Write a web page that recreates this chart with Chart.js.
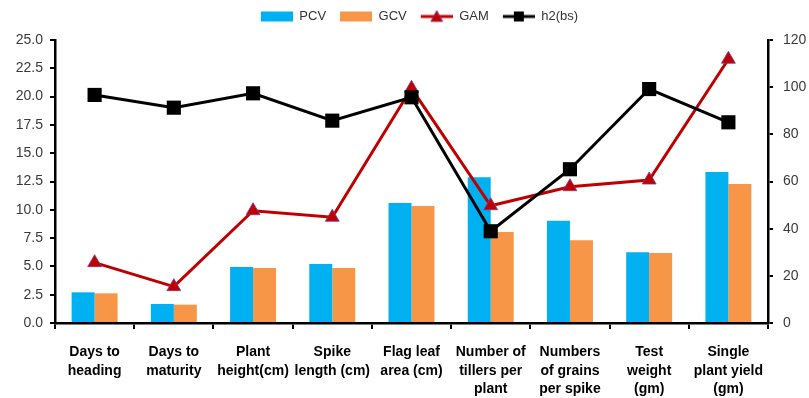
<!DOCTYPE html>
<html>
<head>
<meta charset="utf-8">
<script src="https://cdn.jsdelivr.net/npm/chart.js@4"></script>
<style>
  body { margin: 0; background: #fff; }
  canvas { display: block; }
</style>
</head>
<body>
<canvas id="chart" width="809" height="398"></canvas>
<script>
// --- Data ---
const categories = [
    ['Days to', 'heading'],
    ['Days to', 'maturity'],
    ['Plant', 'height(cm)'],
    ['Spike', 'length (cm)'],
    ['Flag leaf', 'area (cm)'],
    ['Number of', 'tillers per', 'plant'],
    ['Numbers', 'of grains', 'per spike'],
    ['Test', 'weight', '(gm)'],
    ['Single', 'plant yield', '(gm)']
];
const pcv = [2.71, 1.68, 4.95, 5.21, 10.60, 12.87, 9.04, 6.24, 13.34];
const gcv = [2.62, 1.62, 4.86, 4.86, 10.34, 8.04, 7.30, 6.18, 12.28];
const gam = [5.33, 3.21, 9.92, 9.34, 20.73, 10.36, 12.04, 12.63, 23.30];
const h2bs = [96.7, 91.3, 97.4, 85.8, 95.7, 38.9, 65.2, 99.2, 85.1];

const leftTicks = [0, 2.5, 5, 7.5, 10, 12.5, 15, 17.5, 20, 22.5, 25];
const rightTicks = [0, 20, 40, 60, 80, 100, 120];

const blue = '#00B0F0';
const orange = '#F79646';
const red = '#C00000';

// --- Legend swatches (blank on the left acts as spacing) ---
function swatch(kind, color) {
    const c = document.createElement('canvas');
    c.width = 38;
    c.height = 14;
    const g = c.getContext('2d');
    if (kind === 'bar') {
        g.fillStyle = color;
        g.fillRect(6, 2, 32, 10);
    } else {
        g.strokeStyle = color;
        g.lineWidth = 3;
        g.beginPath();
        g.moveTo(6, 7);
        g.lineTo(38, 7);
        g.stroke();
        g.fillStyle = color;
        if (kind === 'tri') {
            g.beginPath();
            g.moveTo(22, 1);
            g.lineTo(28, 12);
            g.lineTo(16, 12);
            g.closePath();
            g.fill();
            g.strokeStyle = '#7a3b8c';
            g.lineWidth = 0.8;
            g.stroke();
        } else {
            g.fillRect(17, 2, 10, 10);
        }
    }
    return c;
}
const legendIcons = [swatch('bar', blue), swatch('bar', orange), swatch('tri', red), swatch('sq', '#000')];

// force the plot area: left 55, right 768, top 40, bottom 323
function fixWidth(w) {
    return scale => {
        scale.width = w;
        scale.paddingTop = 40;
    };
}

// keep the legend near the top and nudge it right, as in the original
const legendPlace = {
    id: 'legendPlace',
    afterLayout(chart) {
        const lg = chart.legend;
        if (!lg) return;
        const dy = 2 - lg.top;
        lg.top += dy;
        lg.bottom += dy;
        lg.left += 12;
        lg.right += 12;
    }
};

const ctx = document.getElementById('chart');
new Chart(ctx, {
    type: 'bar',
    data: {
        labels: categories,
        datasets: [
            { label: 'PCV', data: pcv, backgroundColor: blue, yAxisID: 'y', order: 2,
              barPercentage: 1, categoryPercentage: 0.58 },
            { label: 'GCV', data: gcv, backgroundColor: orange, yAxisID: 'y', order: 2,
              barPercentage: 1, categoryPercentage: 0.58 },
            { type: 'line', label: 'GAM', data: gam, yAxisID: 'y', order: 1,
              borderColor: red, borderWidth: 3, tension: 0,
              pointStyle: 'triangle', pointRadius: 8, pointBackgroundColor: red,
              pointBorderColor: '#7a3b8c', pointBorderWidth: 0.8 },
            { type: 'line', label: 'h2(bs)', data: h2bs, yAxisID: 'y1', order: 0,
              borderColor: '#000', borderWidth: 3, tension: 0,
              pointStyle: 'rect', pointRadius: 10, pointBackgroundColor: '#000',
              pointBorderColor: '#000', pointBorderWidth: 0 }
        ]
    },
    options: {
        responsive: false,
        devicePixelRatio: 1,
        animation: false,
        layout: { padding: 0 },
        plugins: {
            tooltip: { enabled: false },
            legend: {
                position: 'top',
                labels: {
                    usePointStyle: true,
                    pointStyleWidth: 38,
                    padding: 8,
                    color: '#333',
                    font: { family: 'Liberation Sans', size: 13, lineHeight: 1 },
                    sort: (a, b) => a.datasetIndex - b.datasetIndex,
                    generateLabels: chart => {
                        const items = Chart.defaults.plugins.legend.labels.generateLabels(chart);
                        items.forEach(it => { it.pointStyle = legendIcons[it.datasetIndex]; });
                        return items;
                    }
                }
            }
        },
        scales: {
            x: {
                offset: true,
                afterFit: scale => { scale.height = 75; },
                border: { display: true, color: '#000', width: 2.5 },
                grid: { display: true, drawOnChartArea: false, offset: true,
                        color: '#000', lineWidth: 2, tickLength: 6 },
                ticks: {
                    autoSkip: false, maxRotation: 0, minRotation: 0, padding: 14,
                    color: '#000',
                    font: { family: 'Liberation Sans', size: 14, weight: 'bold', lineHeight: 1.32 }
                }
            },
            y: {
                position: 'left',
                min: 0, max: 25,
                afterFit: fixWidth(55),
                afterBuildTicks: scale => { scale.ticks = leftTicks.map(v => ({ value: v })); },
                border: { display: true, color: '#000', width: 2.5 },
                grid: { display: true, drawOnChartArea: false, color: '#000', lineWidth: 2, tickLength: 5 },
                ticks: {
                    padding: 7, color: '#3a3a3a',
                    font: { family: 'Liberation Sans', size: 14 },
                    callback: v => Number(v).toFixed(1)
                }
            },
            y1: {
                position: 'right',
                min: 0, max: 120,
                afterFit: fixWidth(41),
                afterBuildTicks: scale => { scale.ticks = rightTicks.map(v => ({ value: v })); },
                border: { display: true, color: '#000', width: 2.5 },
                grid: { display: true, drawOnChartArea: false, color: '#000', lineWidth: 2, tickLength: 5 },
                ticks: {
                    padding: 10, color: '#3a3a3a',
                    font: { family: 'Liberation Sans', size: 14 }
                }
            }
        }
    },
    plugins: [legendPlace]
});
</script>
</body>
</html>
